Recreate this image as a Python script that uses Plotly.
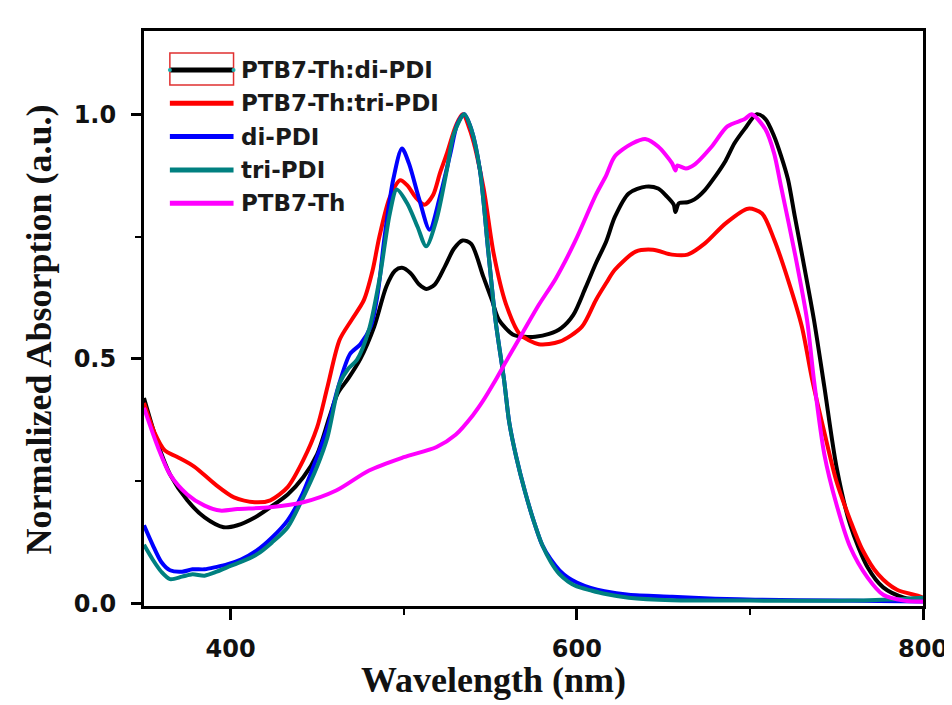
import plotly.graph_objects as go

# ---------------- data ----------------
series_names = ["PTB7-Th:di-PDI", "PTB7-Th:tri-PDI", "di-PDI", "tri-PDI", "PTB7-Th"]
series_colors = ["#000000", "#FF0000", "#0000FF", "#008080", "#FF00FF"]

wl_blend_di = [350, 358, 365, 375, 385, 396, 404, 414, 423, 433, 442, 450, 457, 462, 468, 475, 483, 490,
               495, 499, 504, 509, 513, 518, 524, 529, 534, 539, 546, 551, 555, 563, 570, 576, 584, 591,
               598, 605, 611, 617, 622, 630, 640, 647, 652, 656, 657, 659, 664, 668, 674, 680, 686, 691,
               697, 704, 709, 714, 718, 722, 726, 730, 737, 743, 750, 758, 768, 777, 789, 800]
abs_blend_di = [0.42, 0.326, 0.264, 0.211, 0.176, 0.156, 0.16, 0.176, 0.197, 0.223, 0.258, 0.305, 0.38, 0.43,
                0.46, 0.50, 0.566, 0.648, 0.68, 0.686, 0.675, 0.652, 0.643, 0.652, 0.69, 0.725, 0.742, 0.735,
                0.668, 0.62, 0.58, 0.55, 0.545, 0.545, 0.551, 0.563, 0.59, 0.645, 0.695, 0.74, 0.79, 0.838,
                0.852, 0.848, 0.832, 0.815, 0.80, 0.818, 0.82, 0.826, 0.845, 0.873, 0.905, 0.94, 0.97, 1.0,
                0.99, 0.955, 0.915, 0.867, 0.79, 0.715, 0.58, 0.443, 0.28, 0.16, 0.074, 0.033, 0.012, 0.006]

wl_blend_tri = [350, 356, 362, 369, 379, 391, 402, 414, 423, 433, 442, 450, 456, 463, 470, 477, 482, 486,
                492, 498, 502, 507, 512, 517, 521, 525, 530, 534, 539, 546, 552, 559, 567, 578, 590, 603,
                611, 617, 622, 634, 644, 655, 664, 674, 686, 699, 707, 714, 722, 730, 736, 743, 750, 758,
                765, 774, 785, 797, 800]
abs_blend_tri = [0.41, 0.35, 0.313, 0.30, 0.28, 0.244, 0.217, 0.207, 0.211, 0.238, 0.293, 0.36, 0.443, 0.539,
                 0.58, 0.62, 0.68, 0.75, 0.83, 0.865, 0.855, 0.83, 0.815, 0.835, 0.88, 0.92, 0.975, 1.0, 0.96,
                 0.852, 0.715, 0.613, 0.551, 0.53, 0.535, 0.566, 0.62, 0.655, 0.682, 0.719, 0.723, 0.713,
                 0.713, 0.736, 0.777, 0.807, 0.797, 0.744, 0.662, 0.566, 0.457, 0.35, 0.25, 0.17, 0.11, 0.06,
                 0.028, 0.016, 0.012]

wl_di = [350, 355, 360, 365, 372, 378, 385, 392, 398, 406, 415, 424, 433, 441, 450, 456, 462, 469, 475, 481,
         485, 489, 494, 499, 503, 509, 515, 521, 527, 531, 535, 539, 544, 549, 553, 558, 561, 565, 570, 575,
         580, 585, 590, 595, 600, 608, 616, 630, 655, 680, 703, 750, 800]
abs_di = [0.16, 0.12, 0.085, 0.068, 0.065, 0.07, 0.07, 0.075, 0.08, 0.09, 0.108, 0.135, 0.17, 0.22, 0.30, 0.36,
          0.44, 0.51, 0.53, 0.566, 0.633, 0.75, 0.867, 0.93, 0.90, 0.826, 0.764, 0.832, 0.92, 0.98, 1.0, 0.97,
          0.887, 0.715, 0.58, 0.457, 0.37, 0.30, 0.23, 0.17, 0.12, 0.09, 0.068, 0.053, 0.043, 0.032, 0.025,
          0.018, 0.014, 0.01, 0.008, 0.006, 0.004]

wl_tri = [350, 355, 360, 365, 372, 378, 385, 392, 398, 406, 415, 424, 433, 441, 450, 456, 463, 468, 473, 480,
          486, 492, 496, 502, 508, 513, 519, 525, 529, 535, 539, 544, 549, 553, 558, 561, 565, 570, 575, 580,
          585, 590, 595, 600, 608, 616, 630, 655, 700, 760, 790, 800]
abs_tri = [0.12, 0.09, 0.065, 0.05, 0.055, 0.06, 0.057, 0.065, 0.074, 0.085, 0.10, 0.125, 0.156, 0.21, 0.28,
           0.34, 0.45, 0.48, 0.498, 0.56, 0.662, 0.797, 0.846, 0.818, 0.77, 0.73, 0.785, 0.887, 0.96, 1.0, 0.97,
           0.887, 0.715, 0.58, 0.457, 0.37, 0.30, 0.23, 0.17, 0.12, 0.085, 0.06, 0.045, 0.035, 0.027, 0.02,
           0.012, 0.007, 0.006, 0.006, 0.01, 0.012]

wl_ptb7 = [350, 358, 365, 375, 385, 394, 404, 423, 442, 461, 480, 500, 519, 530, 540, 546, 552, 560, 569, 578,
           588, 599, 611, 617, 622, 632, 640, 647, 655, 657, 658, 663, 668, 678, 687, 697, 701, 709, 714, 718,
           726, 733, 737, 743, 750, 758, 768, 777, 789, 800]
abs_ptb7 = [0.40, 0.32, 0.264, 0.223, 0.20, 0.19, 0.193, 0.197, 0.207, 0.231, 0.272, 0.299, 0.32, 0.345, 0.385,
            0.415, 0.45, 0.50, 0.555, 0.61, 0.665, 0.74, 0.835, 0.875, 0.914, 0.94, 0.949, 0.934, 0.90, 0.885,
            0.895, 0.889, 0.897, 0.934, 0.975, 0.99, 1.0, 0.969, 0.92, 0.852, 0.715, 0.58, 0.457, 0.305, 0.203,
            0.115, 0.053, 0.018, 0.006, 0.004]

x_ticks = [400, 600, 800]
y_ticks = [0.0, 0.5, 1.0]
x_tick_text = ["400", "600", "800"]
y_tick_text = ["0.0", "0.5", "1.0"]

# ---------------- figure ----------------
W, H = 952, 705
L, R, T, B = 136, 33, 23, 107
pw, ph = W - L - R, H - T - B


def px(x):
    return (x - L) / pw


def py(y):
    return (H - B - y) / ph


xs = [wl_blend_di, wl_blend_tri, wl_di, wl_tri, wl_ptb7]
ys = [abs_blend_di, abs_blend_tri, abs_di, abs_tri, abs_ptb7]

fig = go.Figure()
for name, col, x, y in zip(series_names, series_colors, xs, ys):
    fig.add_trace(go.Scatter(x=x, y=y, mode="lines", name=name,
                             line=dict(color=col, width=4, shape="spline", smoothing=0.8),
                             showlegend=False))

tick_font = dict(family="DejaVu Sans", size=24, color="#111111", weight="bold")

fig.update_layout(
    width=W, height=H,
    margin=dict(l=L, r=R, t=T, b=B),
    plot_bgcolor="white", paper_bgcolor="white",
    xaxis=dict(range=[350, 800], tickvals=x_ticks, ticktext=x_tick_text,
               showline=True, linecolor="black", linewidth=3, mirror=True,
               ticks="outside", ticklen=11, tickwidth=2.5, tickcolor="black",
               minor=dict(ticks="outside", ticklen=6, tickwidth=2, tickcolor="black",
                          tickvals=[500, 700]),
               showgrid=False, zeroline=False, tickfont=tick_font, ticklabelstandoff=8),
    yaxis=dict(range=[-0.005, 1.17], tickvals=y_ticks, ticktext=y_tick_text,
               showline=True, linecolor="black", linewidth=3, mirror=True,
               ticks="outside", ticklen=10, tickwidth=2.5, tickcolor="black",
               minor=dict(ticks="outside", ticklen=6, tickwidth=2, tickcolor="black",
                          tickvals=[0.25, 0.75]),
               showgrid=False, zeroline=False, tickfont=tick_font, ticklabelstandoff=10),
)

title_font = dict(family="Liberation Serif", size=36, color="#111111", weight="bold")
fig.add_annotation(text="Wavelength (nm)", xref="paper", yref="paper", x=px(487), y=py(672),
                   showarrow=False, font=title_font, xanchor="center", yanchor="middle")
fig.add_annotation(text="Normalized Absorption (a.u.)", xref="paper", yref="paper", x=px(30), y=py(322),
                   showarrow=False, font=title_font, textangle=-90, xanchor="center", yanchor="middle")

# ---------------- legend (drawn manually to match the long line samples) ----------------
leg_y = [62, 95.3, 128.6, 162, 195.3]
x0, x1, xt = 162, 226, 231
shapes = []
for name, col, yy in zip(series_names, series_colors, leg_y):
    shapes.append(dict(type="line", xref="paper", yref="paper", x0=px(x0), x1=px(x1), y0=py(yy), y1=py(yy),
                       line=dict(color=col, width=5)))
    fig.add_annotation(text=name, xref="paper", yref="paper", x=px(xt), y=py(yy), showarrow=False,
                       xanchor="left", yanchor="middle",
                       font=dict(family="DejaVu Sans", size=23, color="#1a1a1a", weight="bold"))
# selection box around the first legend entry
shapes.append(dict(type="rect", xref="paper", yref="paper", x0=px(162), x1=px(226), y0=py(45), y1=py(77),
                   line=dict(color="#e03030", width=1.5)))
for xx in (x0, x1):
    shapes.append(dict(type="circle", xref="paper", yref="paper", x0=px(xx - 2), x1=px(xx + 2),
                       y0=py(64), y1=py(60), fillcolor="#20b0b0", line=dict(width=0)))
fig.update_layout(shapes=shapes)

fig.write_html("out.html")
